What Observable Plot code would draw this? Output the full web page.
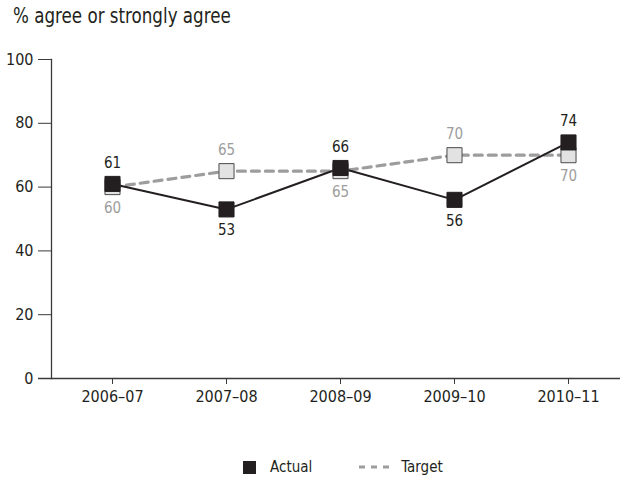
<!DOCTYPE html>
<html>
<head>
<meta charset="utf-8">
<script src="https://cdn.jsdelivr.net/npm/d3@7"></script>
<script src="https://cdn.jsdelivr.net/npm/@observablehq/plot@0.6"></script>
<style>
  body { margin: 0; background: #fff; font-family: "Liberation Sans Narrow", "DejaVu Sans Condensed", sans-serif; color: #231f20; }
  #wrap { position: relative; width: 620px; height: 480px; }
  #title { position: absolute; left: 13px; top: 2px; font-size: 21px; line-height: 28px; white-space: nowrap; transform: scaleX(0.885); transform-origin: 0 0; }
  #chart { position: absolute; left: 0; top: 40px; }
  #legend { position: absolute; left: 243px; top: 458px; display: flex; align-items: center; font-size: 15px; line-height: 18px; }
  .sw { width: 13px; height: 13px; background: #231f20; margin-right: 14px; }
  .gap { width: 47px; }
  #legend svg { margin-right: 12px; }
</style>
</head>
<body>
<div id="wrap">
  <div id="title">% agree or strongly agree</div>
  <div id="chart"></div>
  <div id="legend">
    <div class="sw"></div><span>Actual</span>
    <div class="gap"></div>
    <svg width="30" height="6"><line x1="0" x2="30" y1="3" y2="3" stroke="#9d9d9d" stroke-width="3" stroke-dasharray="6,6"></line></svg>
    <span>Target</span>
  </div>
</div>
<script>
const years = ["2006–07", "2007–08", "2008–09", "2009–10", "2010–11"];
const actual = [61, 53, 66, 56, 74];
const target = [60, 65, 65, 70, 70];
const yTicks = [0, 20, 40, 60, 80, 100];

const ink = "#231f20";
const grey = "#9d9d9d";
const font = '"Liberation Sans Narrow", "DejaVu Sans Condensed", sans-serif';

// Each year's actual label sits on the side away from the target label.
const rows = years.map((year, i) => ({
  year,
  actual: actual[i],
  target: target[i],
  actualAbove: actual[i] >= target[i]
}));

const chart = Plot.plot({
  width: 620,
  height: 370,
  marginTop: 19,
  marginBottom: 32,
  marginLeft: 51,
  marginRight: 0,
  style: { fontFamily: font, fontSize: "16px", color: ink, background: "transparent" },
  x: { type: "point", domain: years, range: [110, 569], padding: 0 },
  y: { domain: [0, 100] },
  marks: [
    Plot.ruleY([0], { stroke: "#3a3a3a", strokeWidth: 1.3, insetLeft: -13 }),
    Plot.frame({ anchor: "left", stroke: "#3a3a3a", strokeWidth: 1.3 }),
    Plot.axisY(yTicks, { tickSize: 13, tickPadding: 5, stroke: "#3a3a3a", fill: ink, fontSize: 16, label: null }),
    Plot.axisX({ tickSize: 6, tickPadding: 6, stroke: "#3a3a3a", fill: ink, fontSize: 16, label: null }),
    Plot.line(rows, { x: "year", y: "target", stroke: grey, strokeWidth: 3.2, strokeDasharray: "8,6" }),
    Plot.line(rows, { x: "year", y: "actual", stroke: ink, strokeWidth: 2 }),
    Plot.dot(rows, { x: "year", y: "target", symbol: "square", r: 8.5, fill: "#e2e2e2", stroke: "#4a4a4a", strokeWidth: 1 }),
    Plot.dot(rows, { x: "year", y: "actual", symbol: "square", r: 8.5, fill: ink, stroke: ink, strokeWidth: 1 }),
    Plot.text(rows.filter(d => d.actualAbove), { x: "year", y: "actual", text: "actual", dy: -21, fill: ink, fontSize: 15 }),
    Plot.text(rows.filter(d => !d.actualAbove), { x: "year", y: "actual", text: "actual", dy: 21, fill: ink, fontSize: 15 }),
    Plot.text(rows.filter(d => d.actualAbove), { x: "year", y: "target", text: "target", dy: 21, fill: grey, fontSize: 15 }),
    Plot.text(rows.filter(d => !d.actualAbove), { x: "year", y: "target", text: "target", dy: -21, fill: grey, fontSize: 15 })
  ]
});
document.getElementById("chart").appendChild(chart);
</script>
</body>
</html>
